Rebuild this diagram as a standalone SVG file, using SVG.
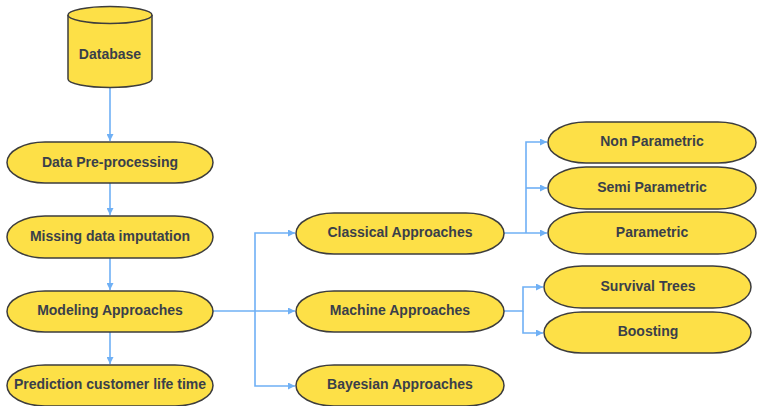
<svg xmlns="http://www.w3.org/2000/svg" width="760" height="406" viewBox="0 0 760 406">
<style>
.n{fill:#fde047;stroke:#3d3d3d;stroke-width:1.5}
.t{font-family:"Liberation Sans",Arial,sans-serif;font-weight:bold;font-size:14px;fill:#3a3f4a;text-anchor:middle;dominant-baseline:central}
.c{fill:none;stroke:#6fb0f5;stroke-width:1.6}
</style>
<defs>
<marker id="a" viewBox="0 0 10 10" refX="10" refY="5" markerWidth="7" markerHeight="7" markerUnits="userSpaceOnUse" orient="auto">
<path d="M0,0 L10,5 L0,10 z" fill="#6fb0f5"/>
</marker>
</defs>
<rect width="760" height="406" fill="#ffffff"/>
<g id="connectors">
<path class="c" d="M110,88 V141" marker-end="url(#a)"/>
<path class="c" d="M110,183 V215" marker-end="url(#a)"/>
<path class="c" d="M110,258 V290" marker-end="url(#a)"/>
<path class="c" d="M110,332 V364" marker-end="url(#a)"/>
<path class="c" d="M213,311 H295" marker-end="url(#a)"/>
<path class="c" d="M255,311 V233 H295" marker-end="url(#a)"/>
<path class="c" d="M255,311 V386 H295" marker-end="url(#a)"/>
<path class="c" d="M504,233 H547" marker-end="url(#a)"/>
<path class="c" d="M526,233 V142 H547" marker-end="url(#a)"/>
<path class="c" d="M526,188 H547" marker-end="url(#a)"/>
<path class="c" d="M504,311 H523 V287 H543" marker-end="url(#a)"/>
<path class="c" d="M523,311 V333 H543" marker-end="url(#a)"/>
</g>
<g id="database">
<path class="n" d="M68,15 V79 A42,8.5 0 0 0 152,79 V15 A42,8.5 0 0 0 68,15 Z"/>
<path class="n" d="M68,15 A42,8.5 0 0 0 152,15" fill="none"/>
<text class="t" x="110" y="54">Database</text>
</g>
<g id="preprocessing">
<rect class="n" x="7" y="142" width="206" height="41" rx="38" ry="20.5"/>
<text class="t" x="110" y="162">Data Pre-processing</text>
</g>
<g id="missing">
<rect class="n" x="7" y="216" width="206" height="42" rx="38" ry="21"/>
<text class="t" x="110" y="236">Missing data imputation</text>
</g>
<g id="modeling">
<rect class="n" x="7" y="291" width="206" height="41" rx="38" ry="20.5"/>
<text class="t" x="110" y="310">Modeling Approaches</text>
</g>
<g id="prediction">
<rect class="n" x="7" y="365" width="206" height="41" rx="38" ry="20.5"/>
<text class="t" x="110" y="384">Prediction customer life time</text>
</g>
<g id="classical">
<rect class="n" x="296" y="213" width="208" height="41" rx="38" ry="20.5"/>
<text class="t" x="400" y="232">Classical Approaches</text>
</g>
<g id="machine">
<rect class="n" x="296" y="291" width="208" height="41" rx="38" ry="20.5"/>
<text class="t" x="400" y="310">Machine Approaches</text>
</g>
<g id="bayesian">
<rect class="n" x="296" y="365" width="208" height="41" rx="38" ry="20.5"/>
<text class="t" x="400" y="384">Bayesian Approaches</text>
</g>
<g id="nonparametric">
<rect class="n" x="548" y="122" width="208" height="41" rx="38" ry="20.5"/>
<text class="t" x="652" y="141">Non Parametric</text>
</g>
<g id="semiparametric">
<rect class="n" x="548" y="167" width="208" height="42" rx="38" ry="21"/>
<text class="t" x="652" y="187">Semi Parametric</text>
</g>
<g id="parametric">
<rect class="n" x="548" y="212" width="208" height="42" rx="38" ry="21"/>
<text class="t" x="652" y="232">Parametric</text>
</g>
<g id="survivaltrees">
<rect class="n" x="544" y="266" width="207" height="42" rx="38" ry="21"/>
<text class="t" x="648" y="286">Survival Trees</text>
</g>
<g id="boosting">
<rect class="n" x="544" y="312" width="207" height="41" rx="38" ry="20.5"/>
<text class="t" x="648" y="331">Boosting</text>
</g>
</svg>
